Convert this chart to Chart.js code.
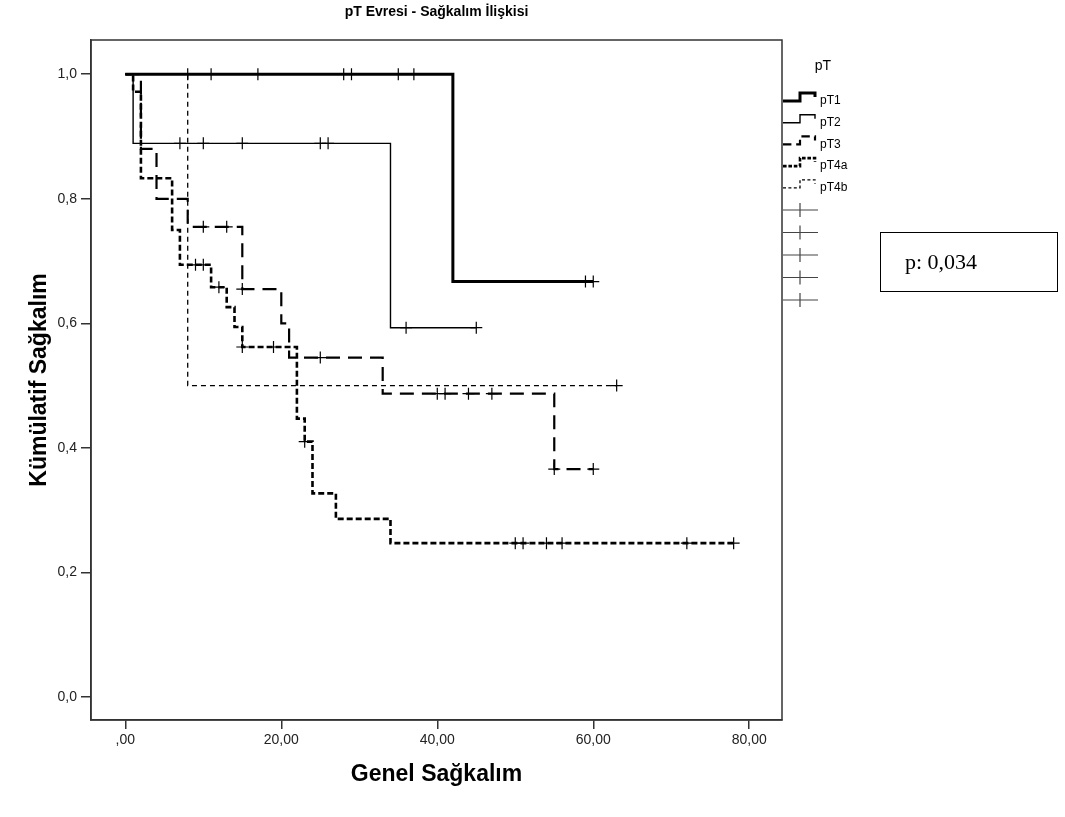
<!DOCTYPE html>
<html>
<head>
<meta charset="utf-8">
<script src="https://cdn.jsdelivr.net/npm/chart.js@4/dist/chart.umd.min.js"></script>
<style>
  html, body { margin: 0; padding: 0; background: #fff; }
  #wrap { position: relative; width: 1065px; height: 817px; }
  #pbox {
    position: absolute; left: 880px; top: 232px; width: 178px; height: 60px;
    box-sizing: border-box; border: 1.5px solid #000;
    font-family: "Liberation Serif", "Times New Roman", serif; font-size: 22px;
    line-height: 57px; padding-left: 24px; color: #000;
  }
</style>
</head>
<body>
<div id="wrap">
  <canvas id="km" width="1065" height="817"></canvas>
  <div id="pbox">p: 0,034</div>
</div>
<script>
// pT evresine göre Kaplan-Meier eğrileri

const groups = ["pT1", "pT2", "pT3", "pT4a", "pT4b"];

// olay zamanları ve o andan sonraki kümülatif sağkalım
const pT1Time = [0, 42, 60];
const pT1Surv = [1, 0.667, 0.667];
const pT1Cens = [8, 11, 17, 28, 29, 35, 37, 59, 60];

const pT2Time = [0, 1, 34, 45];
const pT2Surv = [1, 0.889, 0.593, 0.593];
const pT2Cens = [7, 10, 15, 25, 26, 36, 45];

const pT3Time = [0, 2, 4, 8, 15, 20, 21, 33, 55, 60];
const pT3Surv = [1, 0.88, 0.80, 0.755, 0.655, 0.60, 0.545, 0.487, 0.366, 0.366];
const pT3Cens = [10, 13, 15, 25, 40, 41, 44, 47, 55, 60];

const pT4aTime = [0, 1, 2, 6, 7, 11, 13, 14, 15, 22, 23, 24, 27, 34, 78];
const pT4aSurv = [1, 0.972, 0.833, 0.75, 0.694, 0.658, 0.626, 0.594, 0.562, 0.447, 0.41, 0.327, 0.286, 0.247, 0.247];
const pT4aCens = [9, 10, 12, 15, 19, 23, 50, 51, 54, 56, 72, 78];

const pT4bTime = [0, 8, 63];
const pT4bSurv = [1, 0.5, 0.5];
const pT4bCens = [63];

const xTicks = [0, 20, 40, 60, 80];
const yTicks = [0, 0.2, 0.4, 0.6, 0.8, 1.0];

const curves = [
  [pT1Time, pT1Surv, pT1Cens],
  [pT2Time, pT2Surv, pT2Cens],
  [pT3Time, pT3Surv, pT3Cens],
  [pT4aTime, pT4aSurv, pT4aCens],
  [pT4bTime, pT4bSurv, pT4bCens],
];

// çizgi stilleri (SPSS benzeri)
const widths = [3, 1.4, 2.2, 2.6, 1.3];
const dashes = [[], [], [14, 8], [6, 3], [5, 4]];

function survAt(times, surv, t) {
  let v = surv[0];
  for (let i = 0; i < times.length; i++) {
    if (times[i] <= t) v = surv[i];
  }
  return v;
}

const datasets = [];
curves.forEach(([times, surv, cens], i) => {
  datasets.push({
    type: "line",
    label: groups[i],
    data: times.map((t, k) => ({ x: t, y: surv[k] })),
    stepped: true,
    borderColor: "#000",
    borderWidth: widths[i],
    borderDash: dashes[i],
    pointRadius: 0,
    fill: false,
  });
  datasets.push({
    type: "scatter",
    label: groups[i] + "-sansür",
    data: cens.map((t) => ({ x: t, y: survAt(times, surv, t) })),
    pointStyle: "cross",
    pointRadius: 6,
    borderColor: "#000",
    borderWidth: 1.2,
  });
});

const frame = {
  id: "frame",
  afterDraw(chart) {
    const ctx = chart.ctx;
    const a = chart.chartArea;
    ctx.save();
    ctx.strokeStyle = "#333";
    ctx.lineWidth = 1.5;
    ctx.strokeRect(a.left, a.top, a.right - a.left, a.bottom - a.top);

    ctx.fillStyle = "#000";
    ctx.font = "bold 14px 'Liberation Sans', Arial, sans-serif";
    ctx.textAlign = "center";
    ctx.textBaseline = "middle";
    ctx.fillText("pT Evresi - Sağkalım İlişkisi", (a.left + a.right) / 2, 12);

    // lejant
    const lx = a.right + 1;
    ctx.font = "14px 'Liberation Sans', Arial, sans-serif";
    ctx.fillText("pT", lx + 40, 66);
    ctx.textAlign = "left";
    ctx.font = "12px 'Liberation Sans', Arial, sans-serif";
    groups.forEach((g, i) => {
      const y = 100 + i * 21.7;
      ctx.beginPath();
      ctx.setLineDash(dashes[i].map((d) => d * 0.6));
      ctx.lineWidth = widths[i];
      ctx.strokeStyle = "#000";
      ctx.moveTo(lx, y + 1);
      ctx.lineTo(lx + 17, y + 1);
      ctx.lineTo(lx + 17, y - 7);
      ctx.lineTo(lx + 32, y - 7);
      ctx.lineTo(lx + 32, y - 3);
      ctx.stroke();
      ctx.setLineDash([]);
      ctx.fillText(g, lx + 37, y + 1);
    });
    ctx.strokeStyle = "#444";
    ctx.lineWidth = 1.2;
    groups.forEach((g, i) => {
      const y = 210 + i * 22.5;
      ctx.beginPath();
      ctx.moveTo(lx, y);
      ctx.lineTo(lx + 35, y);
      ctx.moveTo(lx + 17, y - 7);
      ctx.lineTo(lx + 17, y + 7);
      ctx.stroke();
    });
    ctx.restore();
  },
};

const tickFont = { family: "'Liberation Sans', Arial, sans-serif", size: 14 };
const titleFont = { family: "'Liberation Sans', Arial, sans-serif", size: 23, weight: "bold" };

new Chart(document.getElementById("km"), {
  data: { datasets },
  options: {
    responsive: false,
    animation: false,
    devicePixelRatio: 1,
    layout: { padding: { left: 0, top: 40, right: 283, bottom: 0 } },
    plugins: { legend: { display: false }, tooltip: { enabled: false } },
    scales: {
      x: {
        type: "linear",
        min: -4.4,
        max: 84.2,
        afterFit: (s) => { s.height = 97; },
        afterBuildTicks: (s) => { s.ticks = xTicks.map((v) => ({ value: v })); },
        ticks: {
          font: tickFont,
          color: "#222",
          padding: 3,
          maxRotation: 0,
          callback: (v) => (v === 0 ? ",00" : v.toFixed(2).replace(".", ",")),
        },
        grid: { drawOnChartArea: false, tickLength: 9, color: "#333", lineWidth: 1.5 },
        border: { color: "#333", width: 1.5 },
        title: { display: true, text: "Genel Sağkalım", font: titleFont, color: "#000", padding: { top: 0, bottom: 29 } },
      },
      y: {
        type: "linear",
        min: -0.037,
        max: 1.055,
        afterFit: (s) => { s.width = 91; },
        afterBuildTicks: (s) => { s.ticks = yTicks.map((v) => ({ value: v })); },
        ticks: {
          font: tickFont,
          color: "#222",
          padding: 4,
          callback: (v) => v.toFixed(1).replace(".", ","),
        },
        grid: { drawOnChartArea: false, tickLength: 10, color: "#333", lineWidth: 1.5 },
        border: { color: "#333", width: 1.5 },
        title: { display: true, text: "Kümülatif Sağkalım", font: titleFont, color: "#000", padding: { top: 26, bottom: 0 } },
      },
    },
  },
  plugins: [frame],
});
</script>
</body>
</html>
